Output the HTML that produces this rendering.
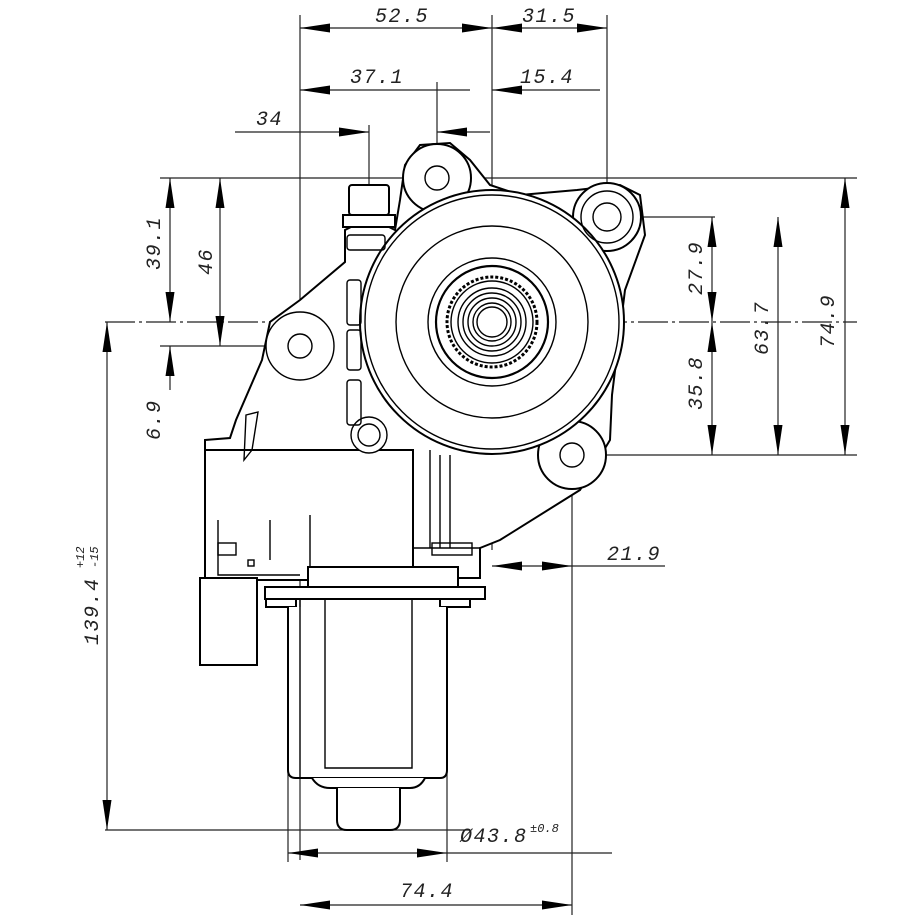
<!DOCTYPE html>
<html><head><meta charset="utf-8"><style>
html,body{margin:0;padding:0;background:#fff}
svg{display:block}
text{font-family:"Liberation Mono","DejaVu Sans Mono",monospace;font-style:italic;font-size:20px;letter-spacing:1.5px;fill:#222}
</style></head><body>
<svg width="915" height="915" viewBox="0 0 915 915" xmlns="http://www.w3.org/2000/svg">
<defs>
<marker id="a" viewBox="0 0 30 10" refX="30" refY="5" markerWidth="30" markerHeight="10" markerUnits="userSpaceOnUse" orient="auto-start-reverse"><path d="M0,0.5 L30,5 L0,9.5z" fill="#000"/></marker>
</defs>
<g stroke="#222" stroke-width="1.2" fill="none">
<line x1="300" y1="15" x2="300" y2="860"/>
<line x1="492" y1="15" x2="492" y2="550"/>
<line x1="607" y1="15" x2="607" y2="200"/>
<line x1="437" y1="82" x2="437" y2="150"/>
<line x1="369" y1="125" x2="369" y2="190"/>
<line x1="572" y1="470" x2="572" y2="915"/>
<line x1="288" y1="600" x2="288" y2="862"/>
<line x1="447" y1="600" x2="447" y2="862"/>
<line x1="160" y1="178" x2="420" y2="178"/>
<line x1="470" y1="178" x2="857" y2="178"/>
<line x1="105" y1="322" x2="857" y2="322" stroke-dasharray="30 4 3 4"/>
<line x1="580" y1="217" x2="715" y2="217"/>
<line x1="160" y1="346" x2="335" y2="346"/>
<line x1="540" y1="455" x2="857" y2="455"/>
<line x1="105" y1="830" x2="470" y2="830"/>
<line x1="300" y1="28" x2="492" y2="28" marker-start="url(#a)" marker-end="url(#a)"/>
<line x1="492" y1="28" x2="607" y2="28" marker-start="url(#a)" marker-end="url(#a)"/>
<line x1="300" y1="90" x2="437" y2="90" marker-start="url(#a)"/>
<line x1="437" y1="90" x2="470" y2="90"/>
<line x1="492" y1="90" x2="600" y2="90" marker-start="url(#a)"/>
<line x1="235" y1="132" x2="369" y2="132" marker-end="url(#a)"/>
<line x1="437" y1="132" x2="490" y2="132" marker-start="url(#a)"/>
<line x1="170" y1="178" x2="170" y2="322" marker-start="url(#a)" marker-end="url(#a)"/>
<line x1="220" y1="178" x2="220" y2="346" marker-start="url(#a)" marker-end="url(#a)"/>
<line x1="170" y1="346" x2="170" y2="390" marker-start="url(#a)"/>
<line x1="712" y1="217" x2="712" y2="322" marker-start="url(#a)" marker-end="url(#a)"/>
<line x1="712" y1="322" x2="712" y2="455" marker-start="url(#a)" marker-end="url(#a)"/>
<line x1="778" y1="217" x2="778" y2="455" marker-start="url(#a)" marker-end="url(#a)"/>
<line x1="845" y1="178" x2="845" y2="455" marker-start="url(#a)" marker-end="url(#a)"/>
<line x1="107" y1="322" x2="107" y2="830" marker-start="url(#a)" marker-end="url(#a)"/>
<line x1="492" y1="566" x2="572" y2="566" marker-start="url(#a)" marker-end="url(#a)"/>
<line x1="572" y1="566" x2="665" y2="566"/>
<line x1="288" y1="853" x2="447" y2="853" marker-start="url(#a)" marker-end="url(#a)"/>
<line x1="447" y1="853" x2="612" y2="853"/>
<line x1="300" y1="905" x2="572" y2="905" marker-start="url(#a)" marker-end="url(#a)"/>
</g>
<g stroke="#000" stroke-width="2" fill="#fff">
<path d="M205,440 L230,438 L236,420 L262,360 L270,322 L300,300 L345,262 L345,230 L355,225 L385,225 L395,230 L400,200 L405,165 L420,145 L450,143 L470,160 L490,185 L520,195 L577,190 L620,185 L640,195 L645,235 L625,290 L612,395 L610,440 L595,465 L580,490 L500,540 L480,548 L480,578 L205,578 Z"/>
<circle cx="437" cy="178" r="34"/>
<circle cx="607" cy="217" r="34"/>
<circle cx="572" cy="455" r="34"/>
<circle cx="492" cy="322" r="132"/>
<rect x="205" y="450" width="208" height="130"/>
<rect x="349" y="185" width="40" height="30" rx="3"/>
<rect x="343" y="215" width="52" height="12"/>
</g>
<g stroke="#000" stroke-width="1.4" fill="none">
<circle cx="492" cy="322" r="127"/>
<circle cx="492" cy="322" r="96"/>
<circle cx="492" cy="322" r="64"/>
<circle cx="492" cy="322" r="56" stroke-width="2.2"/>
<circle cx="492" cy="322" r="45" stroke-dasharray="3 2" stroke-width="3"/>
<circle cx="492" cy="322" r="41"/>
<circle cx="492" cy="322" r="34"/>
<circle cx="492" cy="322" r="29"/>
<circle cx="492" cy="322" r="24"/>
<circle cx="492" cy="322" r="19"/>
<circle cx="492" cy="322" r="15"/>
<circle cx="437" cy="178" r="12"/>
<circle cx="607" cy="217" r="14"/>
<circle cx="607" cy="217" r="26"/>
<circle cx="572" cy="455" r="12"/>
<circle cx="300" cy="346" r="34" fill="#fff"/>
<circle cx="300" cy="346" r="12"/>
<circle cx="369" cy="435" r="18" fill="#fff"/>
<circle cx="369" cy="435" r="11"/>
<rect x="347" y="235" width="38" height="15" rx="3"/>
<rect x="347" y="280" width="14" height="45" rx="3"/>
<rect x="347" y="330" width="14" height="40" rx="3"/>
<rect x="347" y="380" width="14" height="45" rx="3"/>
<path d="M413,450 L413,548 L480,548 M430,450 L430,548 M440,455 L440,548 M450,455 L450,548"/>
<rect x="432" y="543" width="40" height="12"/>
<path d="M218,520 L218,575 L300,575 M270,520 L270,560 M310,515 L310,578"/>
<rect x="218" y="543" width="18" height="12"/>
<rect x="248" y="560" width="6" height="6"/>
<path d="M246,415 L258,412 L252,450 L244,460 Z"/>
</g>
<g stroke="#000" stroke-width="2" fill="#fff">
<rect x="308" y="567" width="150" height="20"/>
<rect x="265" y="587" width="220" height="12"/>
<rect x="266" y="599" width="30" height="8"/>
<rect x="440" y="599" width="30" height="8"/>
<path d="M288,607 L288,770 Q288,778 296,778 L440,778 Q447,778 447,770 L447,607"/>
<path d="M312,778 Q318,788 330,788 L410,788 Q420,788 425,778"/>
<path d="M337,788 L337,820 Q337,830 347,830 L390,830 Q400,830 400,820 L400,788"/>
<rect x="200" y="578" width="57" height="87"/>
</g>
<g stroke="#000" stroke-width="1.4" fill="none">
<path d="M325,599 L325,768 L412,768 L412,599"/>
<line x1="300" y1="599" x2="300" y2="778"/>
</g>
<text x="375" y="22">52.5</text>
<text x="522" y="22">31.5</text>
<text x="350" y="83">37.1</text>
<text x="520" y="83">15.4</text>
<text x="256" y="125">34</text>
<text x="607" y="560">21.9</text>
<text x="460" y="842">Ø43.8</text><text x="530" y="832" style="font-size:12px;letter-spacing:0">±0.8</text>
<text x="400" y="897">74.4</text>
<text transform="translate(160,270) rotate(-90)">39.1</text>
<text transform="translate(212,275) rotate(-90)">46</text>
<text transform="translate(160,440) rotate(-90)">6.9</text>
<text transform="translate(702,295) rotate(-90)">27.9</text>
<text transform="translate(702,410) rotate(-90)">35.8</text>
<text transform="translate(768,355) rotate(-90)">63.7</text>
<text transform="translate(834,348) rotate(-90)">74.9</text>
<text transform="translate(98,645) rotate(-90)">139.4</text>
<text transform="translate(84,568) rotate(-90)" style="font-size:12px;letter-spacing:0">+12</text>
<text transform="translate(98,568) rotate(-90)" style="font-size:12px;letter-spacing:0">-15</text>
</svg>
</body></html>
